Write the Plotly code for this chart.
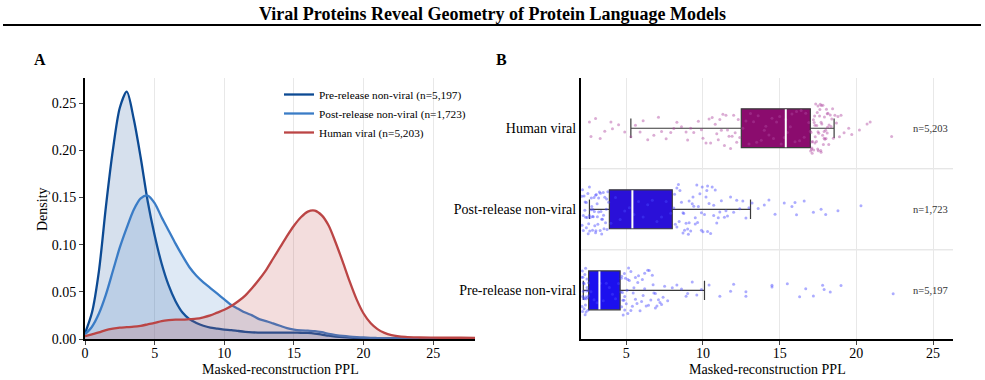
import plotly.graph_objects as go

# ---------------- Panel A data (KDE) ----------------
x_grid = [0.0, 0.5, 1.0, 1.5, 2.0, 2.5, 3.0, 3.5, 4.0, 4.5, 5.0, 5.5, 6.0, 6.5, 7.0, 7.5,
          8.0, 8.5, 9.0, 9.5, 10.0, 10.5, 11.0, 11.5, 12.0, 12.5, 13.0, 13.5, 14.0, 14.5,
          15.0, 15.5, 16.0, 16.5, 17.0, 17.5, 18.0, 18.5, 19.0, 19.5, 20.0, 20.5, 21.0,
          21.5, 22.0, 23.0, 24.0, 25.0, 26.0, 27.0, 28.0]

pre_density = [0.006, 0.028, 0.072, 0.14, 0.20, 0.245, 0.262, 0.233, 0.192, 0.146, 0.11,
               0.08, 0.057, 0.04, 0.028, 0.021, 0.017, 0.014, 0.012, 0.011, 0.010, 0.0095,
               0.0085, 0.0076, 0.007, 0.0068, 0.0067, 0.0067, 0.0068, 0.0068, 0.0067, 0.0066,
               0.0064, 0.0058, 0.0047, 0.0035, 0.0026, 0.0019, 0.0014, 0.0011, 0.0009, 0.0008,
               0.0007, 0.0006, 0.0006, 0.0005, 0.0005, 0.0004, 0.0003, 0.0003, 0.0002]

post_density = [0.005, 0.013, 0.027, 0.047, 0.072, 0.097, 0.118, 0.137, 0.149, 0.152, 0.144,
                0.129, 0.115, 0.101, 0.088, 0.076, 0.067, 0.060, 0.054, 0.048, 0.042, 0.036,
                0.032, 0.028, 0.025, 0.021, 0.019, 0.0165, 0.014, 0.0115, 0.010, 0.0092,
                0.0088, 0.0084, 0.0072, 0.0055, 0.0042, 0.0032, 0.0025, 0.002, 0.0016, 0.0012,
                0.001, 0.0008, 0.0007, 0.0005, 0.0004, 0.0003, 0.0003, 0.0002, 0.0002]

human_density = [0.003, 0.005, 0.007, 0.0095, 0.011, 0.012, 0.0125, 0.013, 0.014, 0.0155, 0.017,
                 0.019, 0.020, 0.0205, 0.0205, 0.021, 0.0215, 0.023, 0.025, 0.028, 0.031, 0.035,
                 0.040, 0.046, 0.054, 0.063, 0.073, 0.085, 0.097, 0.109, 0.120, 0.129, 0.135,
                 0.136, 0.131, 0.120, 0.102, 0.082, 0.061, 0.042, 0.027, 0.017, 0.0105, 0.0065,
                 0.0042, 0.0022, 0.0016, 0.0014, 0.0013, 0.0013, 0.0012]

series_names = ["Pre-release non-viral", "Post-release non-viral", "Human viral"]
series_n = ["5,197", "1,723", "5,203"]

# ---------------- Panel B data ----------------
box_categories = ["Pre-release non-viral", "Post-release non-viral", "Human viral"]
box_lower = [2.2, 2.6, 5.3]
box_q1 = [2.55, 3.9, 12.5]
box_median = [3.25, 5.4, 15.4]
box_q3 = [4.6, 8.0, 17.0]
box_upper = [10.1, 13.1, 18.55]

pre_points = [2.1, 2.15, 2.2, 2.25, 2.3, 2.35, 2.4, 2.45, 2.5, 2.55, 2.12, 2.18, 2.22, 2.28,
              2.32, 2.38, 2.42, 2.48, 2.52, 2.14, 2.24, 2.34, 2.44, 2.54, 2.16, 2.26, 2.36,
              2.7, 2.9, 3.1, 3.3, 3.5, 3.7, 3.9, 4.1, 4.3, 4.5,
              4.65, 4.7, 4.75, 4.8, 4.85, 4.9, 4.95, 5.0, 5.05, 5.1, 5.2, 5.3, 5.4, 5.5, 5.6,
              5.7, 5.8, 5.9, 6.0, 6.1, 6.2, 6.3, 6.4, 6.5, 6.6, 6.7, 6.8, 6.9, 7.0, 7.1, 7.2,
              7.3, 7.4, 7.5, 4.7, 4.9, 5.1, 5.3, 5.6, 6.2, 6.9, 4.68, 4.78, 4.88, 5.15, 5.45,
              5.75, 6.05, 6.45, 6.75, 7.7, 8.0, 8.3, 8.6, 8.9, 9.0,
              9.3, 9.6, 9.9, 10.4, 11.1, 11.8, 12.0, 12.8, 12.8, 14.5, 14.5, 15.5, 16.3, 16.7,
              17.2, 17.8, 17.9, 18.3, 19.0, 22.4]

post_points = [2.1, 2.15, 2.2, 2.25, 2.3, 2.35, 2.4, 2.45, 2.5, 2.55, 2.6, 2.65, 2.7, 2.75,
               2.8, 2.85, 2.9, 2.95, 3.0, 3.05, 3.1, 3.15, 3.2, 3.25, 3.3, 3.35, 3.4, 3.45,
               3.5, 3.55, 3.6, 3.65, 3.7, 3.75, 3.8, 3.85, 2.2, 2.4, 2.6, 2.8, 3.0, 3.2, 3.4,
               2.12, 2.32, 2.52, 2.72, 2.92, 3.12, 3.32, 3.52, 3.72, 2.62, 2.82, 3.02,
               4.0, 4.3, 4.6, 4.9, 5.2, 5.5, 5.8, 6.1, 6.4, 6.7, 7.0, 7.3, 7.6, 7.9,
               8.1, 8.2, 8.3, 8.4, 8.5, 8.6, 8.7, 8.8, 8.9, 9.0, 9.1, 9.2, 9.3, 9.4, 9.5, 9.6,
               9.7, 9.8, 9.9, 10.0, 10.1, 10.2, 10.3, 10.4, 10.5, 10.6, 10.7, 10.8, 10.9, 11.0,
               11.2, 11.4, 11.6, 11.8, 12.0, 12.2, 12.4, 12.6, 12.8, 13.0, 8.3, 8.7, 9.1, 9.5,
               9.9, 10.3, 10.7, 8.15, 8.45, 8.75, 9.05, 9.35, 9.65, 9.95, 10.25, 11.1, 11.5,
               13.2, 13.6, 14.0, 14.3, 14.7, 15.3, 15.8, 16.0, 16.1, 16.6,
               17.2, 17.7, 18.0, 18.8, 20.3]

human_points = [2.6, 2.7, 3.0, 3.3, 3.6, 4.0, 4.1, 4.5, 4.9, 5.3, 5.6, 5.9, 6.1, 6.4, 6.8, 7.1,
                7.3, 7.6, 7.9, 8.1, 8.3, 8.6, 8.9, 9.0, 9.2, 9.4, 9.7, 9.9, 10.0, 10.2, 10.4,
                10.5, 10.6, 10.8, 10.9, 11.0, 11.1, 11.2, 11.3, 11.4, 11.5, 11.6, 11.7, 11.8,
                11.9, 12.0, 12.1, 12.2, 12.3, 12.4, 12.6, 12.8, 13.0, 13.1, 13.3, 13.5, 13.6,
                13.8, 14.0, 14.1, 14.3, 14.5, 14.6, 14.8, 15.0, 15.1, 15.3, 15.4, 15.5, 15.7,
                15.8, 16.0, 16.1, 16.3, 16.4, 16.6, 16.7, 16.9, 17.0, 17.05, 17.1, 17.15, 17.2,
                17.25, 17.3, 17.35, 17.4, 17.45, 17.5, 17.55, 17.6, 17.65, 17.7, 17.75, 17.8,
                17.85, 17.9, 17.95, 18.0, 18.05, 18.1, 18.2, 18.3, 18.4, 18.5, 18.6, 18.7, 18.8,
                18.9, 19.0, 17.1, 17.3, 17.5, 17.7, 17.9, 18.1, 17.02, 17.12, 17.22, 17.32,
                17.42, 17.52, 17.62, 17.72, 17.82, 17.92, 18.02, 18.12, 18.22, 18.35, 18.45,
                18.15, 17.08, 17.28, 17.48, 17.68, 19.2, 19.5, 19.7, 20.2, 20.7,
                20.9, 22.3]

points_by_cat = [pre_points, post_points, human_points]
n_labels = ["n=5,197", "n=1,723", "n=5,203"]

x_ticks_a = [0, 5, 10, 15, 20, 25]
y_ticks_a = [0.0, 0.05, 0.10, 0.15, 0.20, 0.25]
x_ticks_b = [5, 10, 15, 20, 25]

# ---------------- styles ----------------
FONT = "Liberation Serif"
line_colors = ["#0c4a93", "#3a7cc6", "#bb4545"]
fill_colors = ["rgba(12,74,147,0.17)", "rgba(58,124,198,0.17)", "rgba(187,69,69,0.18)"]
box_fill = ["#1c10ee", "#2a10d8", "#8b0c6e"]
point_colors = ["rgba(70,70,255,0.45)", "rgba(70,70,255,0.45)", "rgba(175,70,160,0.45)"]

W, H = 985, 380
def px(xp):
    return xp / W
def py(yp):
    return 1 - yp / H

fig = go.Figure()

densities = [pre_density, post_density, human_density]
for i, name in enumerate(series_names):
    fig.add_trace(go.Scatter(
        x=x_grid, y=densities[i], mode="lines",
        line=dict(color=line_colors[i], width=2.3, shape="spline", smoothing=0.8),
        fill="tozeroy", fillcolor=fill_colors[i],
        name=f"{name} (n={series_n[i]})", legendgroup=name,
        xaxis="x", yaxis="y", showlegend=False,
    ))
# legend entries (line only, like the reference)
for i, name in enumerate(series_names):
    fig.add_trace(go.Scatter(
        x=[None], y=[None], mode="lines", line=dict(color=line_colors[i], width=2.3),
        name=f"{name} (n={series_n[i]})", legendgroup=name,
        xaxis="x", yaxis="y", showlegend=True,
    ))

# Panel B boxes
for i, cat in enumerate(box_categories):
    fig.add_trace(go.Box(
        y=[i], q1=[box_q1[i]], median=[box_median[i]], q3=[box_q3[i]],
        lowerfence=[box_lower[i]], upperfence=[box_upper[i]],
        orientation="h", width=0.48, whiskerwidth=0.5,
        fillcolor=box_fill[i], line=dict(color="#3a3a3a", width=1.2),
        boxpoints=False, xaxis="x2", yaxis="y2", showlegend=False, hoverinfo="skip",
    ))
    fig.add_trace(go.Scatter(
        x=[box_median[i], box_median[i]], y=[i - 0.235, i + 0.235], mode="lines",
        line=dict(color="white", width=2), xaxis="x2", yaxis="y2",
        showlegend=False, hoverinfo="skip",
    ))
    fig.add_trace(go.Box(
        x=points_by_cat[i], y0=i, orientation="h", width=0.62,
        boxpoints="all", jitter=1, pointpos=0,
        marker=dict(color=point_colors[i], size=3),
        fillcolor="rgba(0,0,0,0)", line=dict(color="rgba(0,0,0,0)", width=0),
        xaxis="x2", yaxis="y2", showlegend=False, hoverinfo="skip",
    ))

annotations = [
    dict(text="<b>Viral Proteins Reveal Geometry of Protein Language Models</b>",
         x=0.5, y=py(14), xref="paper", yref="paper", showarrow=False,
         font=dict(family=FONT, size=18, color="black"), xanchor="center", yanchor="middle"),
    dict(text="<b>A</b>", x=px(40), y=py(59), xref="paper", yref="paper", showarrow=False,
         font=dict(family=FONT, size=16, color="black"), xanchor="center", yanchor="middle"),
    dict(text="<b>B</b>", x=px(501), y=py(59), xref="paper", yref="paper", showarrow=False,
         font=dict(family=FONT, size=16, color="black"), xanchor="center", yanchor="middle"),
    dict(text="Masked-reconstruction PPL", x=px(280), y=py(369), xref="paper", yref="paper",
         showarrow=False, xanchor="center", yanchor="middle",
         font=dict(family=FONT, size=14, color="black")),
    dict(text="Masked-reconstruction PPL", x=px(767), y=py(369), xref="paper", yref="paper",
         showarrow=False, xanchor="center", yanchor="middle",
         font=dict(family=FONT, size=14, color="black")),
    dict(text="Density", x=px(42), y=py(209), xref="paper", yref="paper", textangle=-90,
         showarrow=False, xanchor="center", yanchor="middle",
         font=dict(family=FONT, size=14, color="black")),
]
for i, lab in enumerate(n_labels):
    annotations.append(dict(text=lab, x=26.1, y=i, xref="x2", yref="y2", showarrow=False,
                            xanchor="right", yanchor="middle",
                            font=dict(family=FONT, size=10.5, color="#333333")))

shapes = [
    dict(type="line", xref="paper", yref="paper", x0=px(3), x1=px(981), y0=py(25), y1=py(25),
         line=dict(color="black", width=2)),
]
for yv in [0.5, 1.5]:
    shapes.append(dict(type="line", xref="x2 domain", yref="y2", x0=0, x1=1, y0=yv, y1=yv,
                       line=dict(color="#dddddd", width=1), layer="below"))

axis_common = dict(showline=True, linecolor="black", linewidth=2, mirror=False,
                   tickfont=dict(family=FONT, size=14, color="black"),
                   zeroline=False, automargin=False)

fig.update_layout(
    width=W, height=H, margin=dict(l=0, r=0, t=0, b=0),
    paper_bgcolor="white", plot_bgcolor="white",
    font=dict(family=FONT, color="black"),
    showlegend=True,
    legend=dict(x=px(279), y=py(80), xanchor="left", yanchor="top",
                bgcolor="rgba(0,0,0,0)", font=dict(family=FONT, size=11.3, color="black"),
                tracegroupgap=0, itemwidth=30),
    xaxis=dict(domain=[px(85), px(475)], range=[0, 28], tickvals=x_ticks_a,
               ticks="outside", ticklen=4, tickwidth=1, showgrid=True, gridcolor="#e8e8e8",
               ticklabelstandoff=-4, anchor="y", **axis_common),
    yaxis=dict(domain=[py(339), py(78)], range=[0, 0.2765], tickvals=y_ticks_a,
               tickformat=".2f", ticks="outside", ticklen=4, tickwidth=1, showgrid=False,
               anchor="x", **axis_common),
    xaxis2=dict(domain=[px(581), px(953)], range=[2.05, 26.3], tickvals=x_ticks_b,
                ticks="outside", ticklen=4, tickwidth=1, showgrid=True, gridcolor="#e8e8e8",
                ticklabelstandoff=-4, anchor="y2", **axis_common),
    yaxis2=dict(domain=[py(339), py(78)], range=[-0.6, 2.62], tickvals=[0, 1, 2],
                ticktext=box_categories, ticks="", showgrid=False, anchor="x2",
                ticklabelstandoff=0, **axis_common),
    annotations=annotations, shapes=shapes,
    boxmode="overlay",
)

fig.write_html("out.html")
